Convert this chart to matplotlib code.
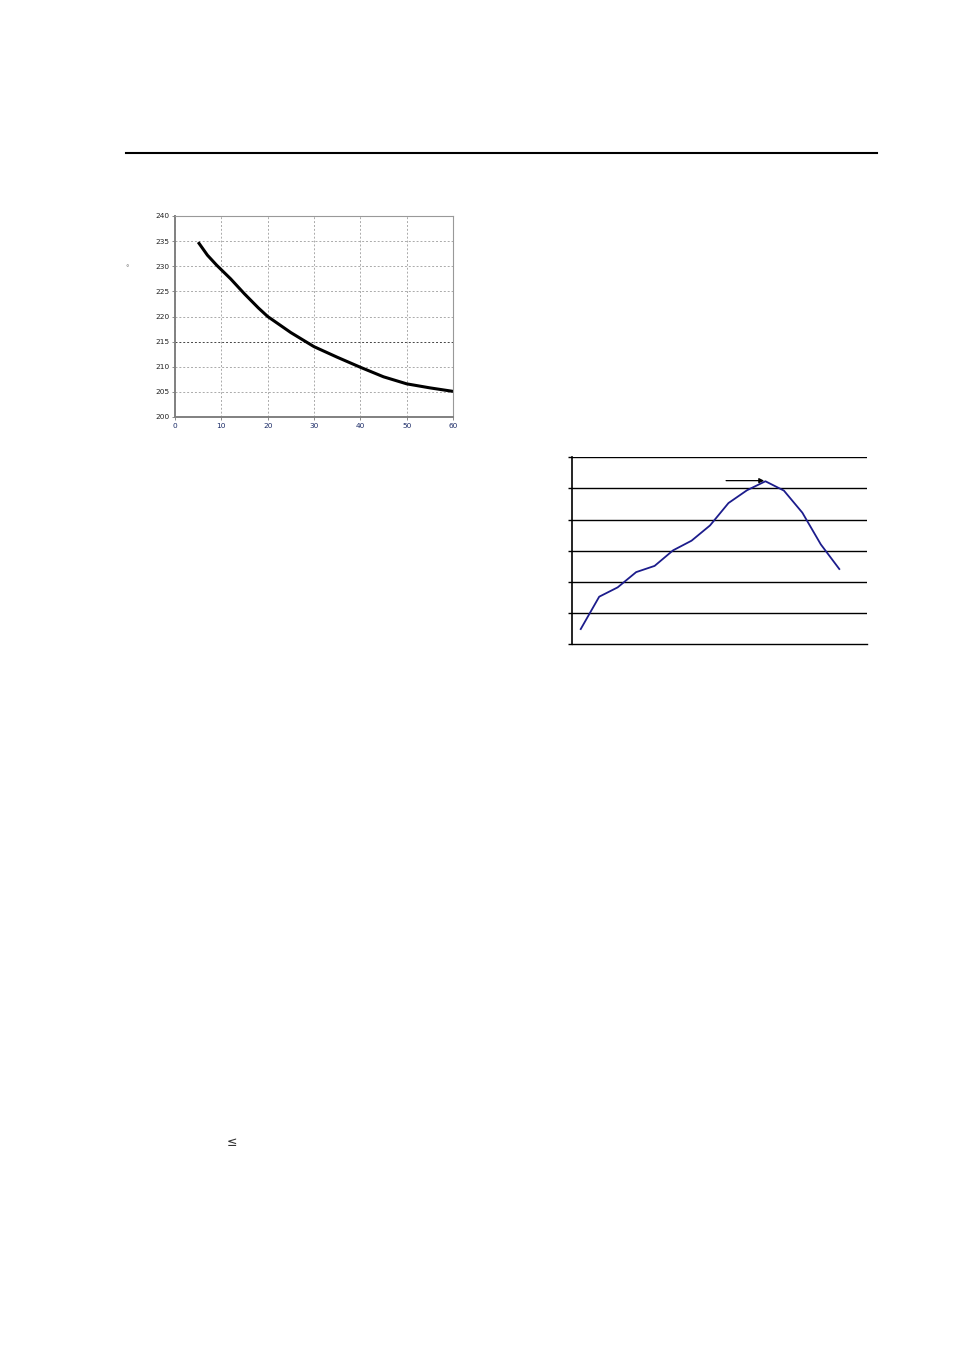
import matplotlib.pyplot as plt

# left chart: temperature curve
temp_x = [5, 7, 9, 10, 12, 15, 18, 20, 25, 30, 35, 40, 45, 50, 55, 60]
temp_y = [234.8, 232.2, 230.2, 229.3, 227.5, 224.5, 221.7, 220.0, 216.8, 214.0, 211.9, 209.9, 208.0, 206.6, 205.8, 205.1]
left_xticks = [0, 10, 20, 30, 40, 50, 60]
left_yticks = [200, 205, 210, 215, 220, 225, 230, 235, 240]

# right chart: category line with peak
cat_x = list(range(1, 16))
cat_y = [0.48, 1.52, 1.82, 2.31, 2.51, 3.01, 3.32, 3.81, 4.53, 4.94, 5.23, 4.93, 4.22, 3.20, 2.41]
right_grid = [0, 1, 2, 3, 4, 5, 6]
arrow_start = (8.87, 5.25)
arrow_end = (10.93, 5.25)

fig = plt.figure(figsize=(9.54, 13.5), dpi=100)

# rule across the page header
fig.add_artist(plt.Line2D([126 / 954, 877 / 954], [1 - 153 / 1350] * 2,
                          color="black", lw=1.5))

ax = fig.add_axes([175 / 954, 1 - 417 / 1350, 278 / 954, 201 / 1350])
ax.plot(temp_x, temp_y, color="black", lw=2.2, solid_capstyle="butt",
        solid_joinstyle="round")
ax.set_xlim(0, 60)
ax.set_ylim(200, 240)
ax.set_xticks(left_xticks)
ax.set_yticks(left_yticks)
ax.grid(True, color="#aaaaaa", ls=(0, (2, 2)), lw=0.7)
for gl, v in zip(ax.get_ygridlines(), left_yticks):
    if v == 215:
        gl.set_color("#444444")
ax.tick_params(labelsize=5.3, length=2, width=0.6, color="#777777", pad=2)
for lab in ax.get_xticklabels():
    lab.set_color("#1a2a66")
for lab in ax.get_yticklabels():
    lab.set_color("#222222")
for side in ["left", "bottom"]:
    ax.spines[side].set_color("#808080")
    ax.spines[side].set_linewidth(1.4)
for side in ["top", "right"]:
    ax.spines[side].set_color("#999999")
    ax.spines[side].set_linewidth(0.8)
fig.text(127 / 954, 1 - 268 / 1350, "°", fontsize=5, color="#666666",
         ha="center", va="center")

ax2 = fig.add_axes([571.5 / 954, 1 - 644 / 1350, 295.5 / 954, 186.7 / 1350])
ax2.plot(cat_x, cat_y, color="#1c1c8c", lw=1.3)
ax2.set_xlim(0.5, 16.5)
ax2.set_ylim(0, 6)
ax2.set_yticks(right_grid)
ax2.set_yticklabels([])
ax2.set_xticks([])
for v in right_grid[1:]:
    ax2.axhline(v, color="black", lw=1.0, zorder=0)
ax2.tick_params(axis="y", length=3, width=1.0, direction="out")
ax2.spines["top"].set_visible(False)
ax2.spines["right"].set_visible(False)
ax2.spines["left"].set_linewidth(1.2)
ax2.spines["bottom"].set_linewidth(1.0)
ax2.annotate("", xy=arrow_end, xytext=arrow_start,
             arrowprops=dict(arrowstyle="-|>", color="black", lw=0.9,
                             mutation_scale=7, shrinkA=0, shrinkB=0))

fig.text(232 / 954, 1 - 1143 / 1350, "≤", fontsize=9, color="#333333",
         ha="center", va="center")

fig.savefig("out.png", dpi=100)
